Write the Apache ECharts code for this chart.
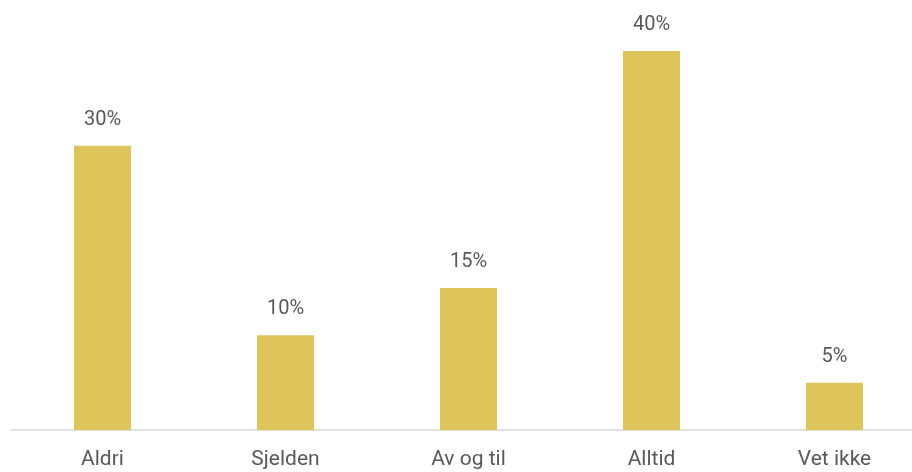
<!DOCTYPE html>
<html><head><meta charset="utf-8">
<script src="https://cdn.jsdelivr.net/npm/echarts@6/dist/echarts.min.js"></script>
<style>html,body{margin:0;padding:0;background:#fff;overflow:hidden}#c{width:927px;height:472px}</style>
</head><body><div id="c"></div>
<script>
const categories = ["Aldri", "Sjelden", "Av og til", "Alltid", "Vet ikke"];
const values = [30, 10, 15, 40, 5];

const chart = echarts.init(document.getElementById('c'));
chart.setOption({
  animation: false,
  grid: { left: 11, top: 51, width: 915, bottom: 42, containLabel: false },
  xAxis: {
    type: 'category',
    data: categories,
    axisTick: { show: false },
    axisLine: { lineStyle: { color: '#D9D9D9', width: 1.5 } },
    axisLabel: { color: '#595959', fontSize: 21, fontFamily: 'Roboto', margin: 19 }
  },
  yAxis: { type: 'value', min: 0, max: 40, show: false, splitLine: { show: false } },
  series: [{
    type: 'bar',
    data: values,
    barWidth: 57,
    itemStyle: { color: '#DDC55C' },
    label: {
      show: true, position: 'top', distance: 16,
      formatter: p => p.value + '%',
      color: '#595959', fontSize: 20, fontFamily: 'Roboto'
    }
  }]
});
</script></body></html>
